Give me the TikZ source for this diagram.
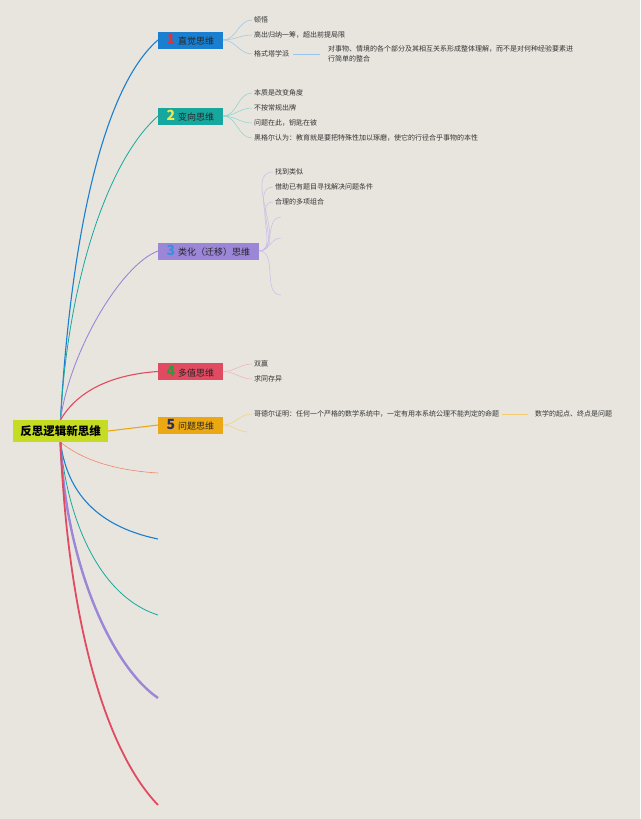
\documentclass[tikz,border=0pt]{standalone}
\usepackage{fontspec}
\setmainfont{Noto Sans CJK SC}
\usepackage{tikz}
\usetikzlibrary{positioning}
\definecolor{mapbg}{HTML}{E8E5DE}
\definecolor{maplime}{HTML}{C6DC22}
\definecolor{mapblue}{HTML}{1A7FD0}
\definecolor{mapteal}{HTML}{16A89F}
\definecolor{mappurple}{HTML}{9B86D8}
\definecolor{mapred}{HTML}{E14B62}
\definecolor{mapgold}{HTML}{EBA812}
\definecolor{maporange}{HTML}{F0866A}
\definecolor{numred}{HTML}{E0303A}
\definecolor{numyellow}{HTML}{F2E64A}
\definecolor{numblue}{HTML}{3A8FE0}
\definecolor{numgreen}{HTML}{2E9A3A}
\definecolor{numnavy}{HTML}{2B2E6B}
\newcommand{\topicnum}[2]{{\color{#1}\fontsize{14}{14}\selectfont\bfseries #2}\hspace{3pt}}
\tikzset{
    rootbox/.style={fill=maplime,minimum width=95pt,minimum height=22pt,inner sep=2pt,font=\fontsize{11.5}{12}\selectfont\bfseries},
    topic/.style={fill=#1,anchor=west,minimum height=17pt,inner xsep=8.5pt,inner ysep=1pt,text=black!85,font=\fontsize{9}{10}\selectfont},
    leaf/.style={anchor=west,inner xsep=2pt,inner ysep=1pt,text=black!80,font=\fontsize{7}{10}\selectfont},
    limb/.style={draw=#1,line width=1.1pt},
    twig/.style={draw=#1,line width=0.5pt},
}

\begin{document}
\begin{tikzpicture}[x=1pt,y=1pt]
    \fill[mapbg] (0,0) rectangle (640,-819);
    \useasboundingbox (0,0) rectangle (640,-819);

    \node[rootbox] (root) at (60.5,-431) {反思逻辑新思维};
    \node[topic=mapblue] (intuit) at (158,-40) {\topicnum{numred}{1}直觉思维};
    \node[topic=mapteal] (reverse) at (158,-116) {\topicnum{numyellow}{2}变向思维};
    \node[topic=mappurple] (analog) at (158,-251) {\topicnum{numblue}{3}类化（迁移）思维};
    \node[topic=mapred] (multi) at (158,-371.5) {\topicnum{numgreen}{4}多值思维};
    \node[topic=mapgold] (question) at (158,-425) {\topicnum{numnavy}{5}问题思维};

    \draw[limb=mapblue] (root.north) .. controls (70,-250) and (100,-90) .. (intuit.west);
    \draw[limb=mapteal,line width=0.8pt] (root.north) .. controls (68,-280) and (108,-160) .. (reverse.west);
    \draw[limb=mappurple,line width=0.9pt] (root.north) .. controls (70,-350) and (122,-264) .. (analog.west);
    \draw[limb=mapred] (root.north) .. controls (75,-395) and (105,-375) .. (multi.west);
    \draw[limb=mapgold] (root.east) -- (question.west);

    \coordinate (endA) at (158,-473);
    \coordinate (endB) at (158,-539);
    \coordinate (endC) at (158,-615);
    \coordinate (endD) at (158,-698);
    \coordinate (endE) at (158,-805);
    \draw[limb=maporange,line width=0.6pt] (root.south) .. controls (80,-458) and (110,-470) .. (endA);
    \draw[limb=mapblue] (root.south) .. controls (66,-485) and (90,-525) .. (endB);
    \draw[limb=mapteal,line width=0.8pt] (root.south) .. controls (66,-510) and (95,-595) .. (endC);
    \draw[limb=mappurple,line width=2.4pt] (root.south) .. controls (65,-560) and (110,-665) .. (endD);
    \draw[limb=mapred,line width=1.8pt] (root.south) .. controls (68,-620) and (105,-750) .. (endE);

    \node[leaf] (insight) at (252,-20) {顿悟};
    \node[leaf] (beyond) at (252,-35) {高出归纳一筹，超出前提局限};
    \node[leaf] (gestalt) at (252,-54) {格式塔学派};
    \node[leaf,align=left] (whole) at (326,-54) {对事物、情境的各个部分及其相互关系形成整体理解，而不是对何种经验要素进\\行简单的整合};
    \foreach \kid in {insight,beyond,gestalt}
        \draw[twig=mapblue!45] (intuit.east) to[out=0,in=180] (\kid.west);
    \draw[twig=mapblue!45,line width=0.8pt,shorten <=2pt,shorten >=6pt] (gestalt.east) -- (whole.west);

    \node[leaf] (angle) at (252,-93) {本质是改变角度};
    \node[leaf] (rules) at (252,-108) {不按常规出牌};
    \node[leaf] (keyish) at (252,-123) {问题在此，钥匙在彼};
    \node[leaf] (hegel) at (252,-138) {黑格尔认为：教育就是要把特殊性加以琢磨，使它的行径合乎事物的本性};
    \foreach \kid in {angle,rules,keyish,hegel}
        \draw[twig=mapteal!50] (reverse.east) to[out=0,in=180] (\kid.west);

    \node[leaf] (similar) at (273,-172) {找到类似};
    \node[leaf] (reuse) at (273,-187) {借助已有题目寻找解决问题条件};
    \node[leaf] (combine) at (273,-202) {合理的多项组合};
    \coordinate (emptyA) at (281,-217);
    \coordinate (emptyB) at (281,-238);
    \coordinate (emptyC) at (281,-295);
    \foreach \kid in {similar.west,reuse.west,combine.west,emptyA,emptyB,emptyC}
        \draw[twig=mappurple!55] (analog.east) to[out=0,in=180] (\kid);

    \node[leaf] (winwin) at (252,-364) {双赢};
    \node[leaf] (common) at (252,-379) {求同存异};
    \foreach \kid in {winwin,common}
        \draw[twig=mapred!45] (multi.east) to[out=0,in=180] (\kid.west);

    \node[leaf] (godel) at (252,-414) {哥德尔证明：任何一个严格的数学系统中，一定有用本系统公理不能判定的命题};
    \node[leaf] (origin) at (533,-414) {数学的起点、终点是问题};
    \coordinate (emptyD) at (248,-432);
    \draw[twig=mapgold!55] (question.east) to[out=0,in=180] (godel.west);
    \draw[twig=mapgold!55] (question.east) to[out=0,in=180] (emptyD);
    \draw[twig=mapgold!60,line width=0.8pt,shorten <=1pt,shorten >=5pt] (godel.east) -- (origin.west);
\end{tikzpicture}
\end{document}
